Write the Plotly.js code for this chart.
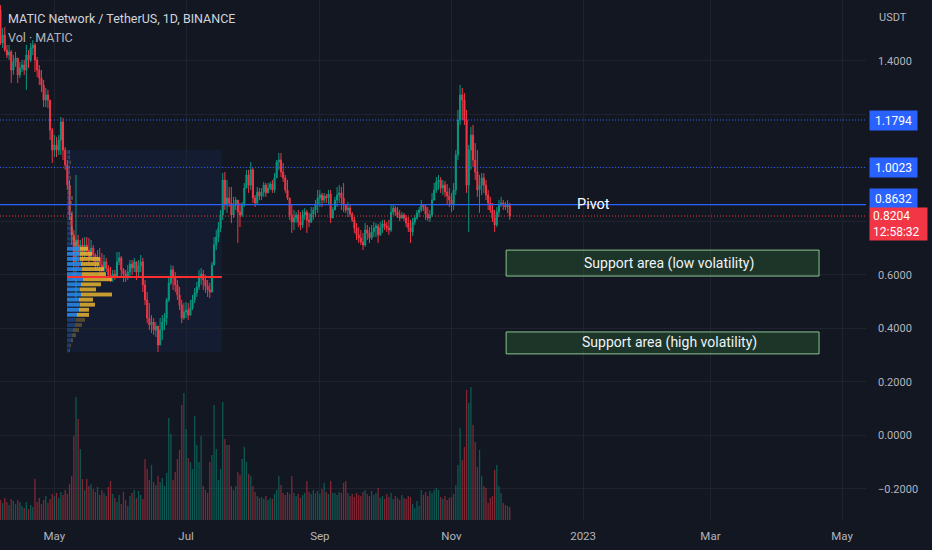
<!DOCTYPE html>
<html><head><meta charset="utf-8">
<script src="https://cdn.plot.ly/plotly-3.0.1.min.js"></script>
<style>html,body{margin:0;padding:0;background:#131722;}#chart{width:932px;height:550px;}</style>
</head><body><div id="chart"></div>
<script>
// ---- data (daily MATIC/USDT candles, first day 2022-04-06) ----
const startDate = [2022, 3, 6];
const firstOpen = 1.591;
const closeP = [
1.467,1.497,1.441,1.422,1.434,1.366,1.396,1.411,1.348,1.374,
1.385,1.366,1.422,1.404,1.449,1.460,1.404,1.366,1.336,1.310,
1.254,1.273,1.254,1.142,1.067,1.086,1.067,1.105,1.172,1.067,
1.011,0.936,0.824,0.750,0.649,0.731,0.675,0.712,0.675,0.712,
0.693,0.664,0.701,0.675,0.649,0.664,0.637,0.619,0.649,0.626,
0.600,0.589,0.604,0.596,0.649,0.664,0.619,0.604,0.596,0.611,
0.641,0.626,0.649,0.611,0.634,0.649,0.563,0.507,0.439,0.413,
0.424,0.394,0.409,0.338,0.394,0.424,0.439,0.507,0.570,0.619,
0.589,0.563,0.525,0.488,0.439,0.462,0.469,0.450,0.477,0.507,
0.533,0.555,0.589,0.604,0.581,0.559,0.544,0.536,0.637,0.712,
0.742,0.776,0.824,0.955,0.862,0.888,0.869,0.824,0.862,0.880,
0.835,0.824,0.862,0.925,0.974,0.936,0.993,0.888,0.869,0.910,
0.895,0.910,0.936,0.907,0.925,0.940,0.918,0.963,1.022,1.030,
0.985,0.963,0.918,0.888,0.824,0.798,0.813,0.824,0.798,0.787,
0.824,0.835,0.806,0.798,0.828,0.843,0.862,0.888,0.899,0.880,
0.895,0.888,0.903,0.813,0.843,0.880,0.899,0.907,0.888,0.862,
0.843,0.850,0.828,0.806,0.776,0.750,0.738,0.723,0.712,0.768,
0.757,0.738,0.761,0.776,0.783,0.750,0.776,0.791,0.783,0.776,
0.768,0.835,0.850,0.835,0.824,0.813,0.824,0.813,0.794,0.776,
0.761,0.798,0.813,0.832,0.843,0.862,0.854,0.828,0.813,0.824,
0.880,0.918,0.948,0.955,0.925,0.936,0.910,0.895,0.880,0.862,
0.918,1.049,1.179,1.273,1.254,1.179,0.936,1.067,1.123,1.030,
0.985,0.918,0.936,0.963,0.936,0.899,0.869,0.843,0.813,0.787,
0.835,0.862,0.869,0.862,0.854,0.865,0.8204];
const highP = [
1.609,1.523,1.527,1.460,1.460,1.441,1.422,1.434,1.411,1.396,
1.404,1.404,1.460,1.441,1.467,1.478,1.467,1.415,1.385,1.366,
1.329,1.299,1.292,1.254,1.150,1.123,1.116,1.123,1.191,1.187,
1.078,1.030,0.955,0.832,0.768,0.974,0.750,0.731,0.738,0.742,
0.742,0.738,0.731,0.712,0.682,0.693,0.701,0.682,0.675,0.664,
0.637,0.630,0.619,0.619,0.686,0.686,0.671,0.626,0.619,0.637,
0.656,0.656,0.664,0.649,0.656,0.675,0.664,0.581,0.536,0.495,
0.450,0.439,0.424,0.409,0.439,0.450,0.458,0.514,0.589,0.637,
0.634,0.611,0.581,0.555,0.507,0.495,0.499,0.495,0.507,0.525,
0.551,0.574,0.619,0.626,0.619,0.600,0.581,0.570,0.649,0.742,
0.768,0.798,0.843,0.981,0.985,0.955,0.929,0.929,0.892,0.892,
0.880,0.869,0.873,0.944,0.993,0.993,1.022,1.000,0.899,0.929,
0.925,0.925,0.948,0.944,0.944,0.948,0.955,0.981,1.030,1.056,
1.056,1.019,0.974,0.955,0.888,0.862,0.843,0.835,0.843,0.835,
0.843,0.850,0.843,0.832,0.854,0.854,0.880,0.918,0.918,0.907,
0.907,0.903,0.918,0.918,0.854,0.892,0.929,0.936,0.929,0.944,
0.862,0.873,0.862,0.835,0.817,0.794,0.779,0.768,0.757,0.794,
0.787,0.779,0.787,0.798,0.794,0.791,0.798,0.806,0.806,0.798,
0.806,0.862,0.862,0.858,0.854,0.843,0.835,0.832,0.824,0.817,
0.806,0.813,0.824,0.843,0.854,0.880,0.865,0.862,0.854,0.843,
0.907,0.944,0.966,0.974,0.966,0.955,0.951,0.940,0.925,0.907,
0.944,1.067,1.217,1.310,1.299,1.280,1.217,1.086,1.153,1.161,
1.093,1.067,0.974,0.981,0.981,0.955,0.918,0.892,0.869,0.843,
0.854,0.880,0.892,0.880,0.873,0.880,0.869];
const lowP = [
1.460,1.449,1.434,1.411,1.404,1.318,1.348,1.378,1.318,1.336,
1.359,1.348,1.292,1.374,1.396,1.422,1.359,1.340,1.310,1.284,
1.228,1.228,1.224,1.105,1.019,1.041,1.041,1.049,1.049,1.030,
0.993,0.918,0.806,0.712,0.581,0.507,0.626,0.645,0.649,0.664,
0.671,0.645,0.656,0.649,0.619,0.619,0.607,0.593,0.604,0.611,
0.581,0.574,0.574,0.581,0.589,0.637,0.593,0.574,0.574,0.581,
0.589,0.600,0.611,0.581,0.589,0.611,0.536,0.488,0.420,0.394,
0.383,0.376,0.368,0.312,0.338,0.357,0.394,0.413,0.499,0.563,
0.544,0.536,0.507,0.469,0.420,0.432,0.439,0.432,0.447,0.469,
0.495,0.518,0.544,0.563,0.544,0.533,0.518,0.514,0.536,0.649,
0.693,0.723,0.761,0.806,0.843,0.832,0.854,0.794,0.813,0.843,
0.720,0.779,0.817,0.854,0.929,0.907,0.918,0.869,0.854,0.862,
0.880,0.880,0.892,0.892,0.907,0.918,0.907,0.907,0.963,0.993,
0.966,0.948,0.907,0.880,0.806,0.757,0.768,0.794,0.779,0.768,
0.776,0.806,0.757,0.779,0.794,0.806,0.817,0.832,0.854,0.854,
0.869,0.869,0.862,0.794,0.817,0.854,0.854,0.869,0.843,0.835,
0.832,0.817,0.817,0.798,0.757,0.731,0.720,0.712,0.693,0.705,
0.731,0.720,0.731,0.742,0.742,0.720,0.746,0.757,0.768,0.761,
0.750,0.761,0.824,0.821,0.813,0.802,0.809,0.802,0.779,0.761,
0.720,0.746,0.787,0.806,0.817,0.835,0.839,0.806,0.802,0.798,
0.817,0.888,0.907,0.918,0.907,0.899,0.892,0.862,0.854,0.835,
0.843,0.899,1.030,1.161,1.179,1.161,0.907,0.761,0.993,1.004,
0.955,0.892,0.832,0.899,0.907,0.880,0.843,0.832,0.798,0.761,
0.779,0.817,0.854,0.843,0.843,0.832,0.806];
// daily volume, millions of MATIC
const volumeM = [
60,51,66,54,45,63,57,48,60,54,
42,36,54,33,45,39,123,54,66,48,
60,72,51,63,78,72,81,66,84,75,
90,78,108,132,252,369,303,213,123,90,
123,102,108,93,84,99,75,90,81,72,
99,117,78,66,54,75,48,84,60,42,
72,81,90,66,87,75,63,183,153,120,
165,114,105,132,114,126,102,141,306,258,
120,144,183,210,345,381,273,186,174,153,
312,225,174,252,102,90,81,174,195,345,
213,120,153,354,243,225,225,102,90,102,
144,135,183,219,174,138,132,102,84,72,
66,69,63,72,60,66,63,78,90,132,
105,81,75,84,78,132,81,72,78,66,
75,81,117,84,78,90,81,87,78,93,
111,84,78,117,81,81,75,84,81,111,
117,81,72,78,69,81,75,72,84,90,
78,72,87,75,81,96,66,72,63,78,
69,81,63,72,66,60,75,66,63,72,
69,48,36,57,42,90,75,84,72,87,
81,90,96,90,69,63,72,60,66,69,
78,105,165,276,180,219,390,351,399,285,
234,159,210,132,102,96,51,66,72,150,
165,102,81,51,45,42,39];

// time axis ticks
const tickDates = ['2022-05-01','2022-07-01','2022-09-01','2022-11-01','2023-01-01','2023-03-01','2023-05-01'];
const tickLabels = ['May','Jul','Sep','Nov','2023','Mar','May'];
// price grid; labels at 1.2, 1.0 and 0.8 sit under the price tags in the reference
const priceTicks = [-0.2, 0, 0.2, 0.4, 0.6, 0.8, 1.0, 1.2, 1.4];
const priceTickText = ['−0.2000', '0.0000', '0.2000', '0.4000', '0.6000', '', '', '', '1.4000'];

// drawn levels
const dottedLevels = [1.1794, 1.0023];
const pivotPrice = 0.8632;
const lastPrice = 0.8204;
const countdown = '12:58:32';

// support zones
const zoneLabels = ['Support area (low volatility)', 'Support area (high volatility)'];
const zoneLow = [0.596, 0.305];
const zoneHigh = [0.693, 0.387];
const zoneStart = '2022-11-26 08:00';
const zoneEnd = '2023-04-20 08:00';
const zoneTextDate = '2023-02-10';
const pivotTextDate = '2023-01-06';

// fixed range volume profile (rows: price centre, up volume, down volume)
const profileStart = '2022-05-06 20:00';
const profileEnd = '2022-07-17 15:00';
const profileLow = 0.312, profileHigh = 1.067, pocPrice = 0.5925;
const vaLow = 0.44, vaHigh = 0.71;
const profilePrice = [0.318,0.337,0.356,0.375,0.394,0.413,0.432,0.451,0.470,0.489,0.508,0.527,0.546,0.565,0.584,0.603,0.622,0.641,0.660,0.679,0.698,0.717,0.736,0.755,0.774,0.793,0.812,0.831,0.850,0.869,0.888,0.907,0.926,0.945,0.964,0.983,1.002,1.021,1.040,1.059];
const profileUp   = [2,3,4,5,6,8,9,10,12,13,12,14,13,14,16,15,15,14,13,13,13,6,5,4,4,3,3,4,3,3,4,3,3,2,3,2,2,3,2,2];
const profileDown = [1,1,2,4,6,7,9,12,10,15,14,31,16,20,29,24,22,18,20,12,8,4,3,2,2,1,2,2,1,2,2,1,1,1,1,1,1,1,1,1];

// ---- build ----
const UP = '#089981', DOWN = '#f23645';
const dates = closeP.map((_, i) => new Date(Date.UTC(startDate[0], startDate[1], startDate[2] + i)).toISOString().slice(0, 10));
const openP = [firstOpen].concat(closeP.slice(0, -1));
const volColors = closeP.map((c, i) => c >= openP[i] ? 'rgba(8,153,129,0.5)' : 'rgba(242,54,69,0.5)');

const xLeft = '2022-04-05 19:00', xRight = '2023-05-12 02:00';
const ms = s => Date.parse(s.replace(' ', 'T') + 'Z');
const fStart = (ms(profileStart) - ms(xLeft)) / (ms(xRight) - ms(xLeft));
const x3Span = 866;

const inVA = p => p >= vaLow && p <= vaHigh;
const upCols = profilePrice.map(p => inVA(p) ? 'rgba(41,140,240,0.85)' : 'rgba(41,120,220,0.35)');
const dnCols = profilePrice.map(p => inVA(p) ? 'rgba(230,180,50,0.85)' : 'rgba(200,160,60,0.35)');

const traces = [
  { type: 'bar', x: dates, y: volumeM, yaxis: 'y2', xaxis: 'x', marker: { color: volColors, line: { width: 0 } }, hoverinfo: 'skip', showlegend: false },
  { type: 'bar', orientation: 'h', y: profilePrice, x: profileUp, base: 0, xaxis: 'x3', yaxis: 'y', width: 0.0145, marker: { color: upCols, line: { width: 0 } }, hoverinfo: 'skip', showlegend: false },
  { type: 'bar', orientation: 'h', y: profilePrice, x: profileDown, base: profileUp, xaxis: 'x3', yaxis: 'y', width: 0.0145, marker: { color: dnCols, line: { width: 0 } }, hoverinfo: 'skip', showlegend: false },
  { type: 'candlestick', x: dates, open: openP, high: highP, low: lowP, close: closeP, xaxis: 'x', yaxis: 'y',
    increasing: { line: { color: UP, width: 1 }, fillcolor: UP }, decreasing: { line: { color: DOWN, width: 1 }, fillcolor: DOWN },
    whiskerwidth: 0, hoverinfo: 'skip', showlegend: false }
];

const FONT = 'Roboto, "Liberation Sans", sans-serif';
const shapes = [
  { type: 'rect', xref: 'x', yref: 'y', x0: profileStart, x1: profileEnd, y0: profileLow, y1: profileHigh, fillcolor: 'rgba(41,98,255,0.07)', line: { width: 0 }, layer: 'below' },
  { type: 'line', xref: 'x', yref: 'y', x0: profileStart, x1: profileEnd, y0: pocPrice, y1: pocPrice, line: { color: '#ff2e2e', width: 2 } }
];
dottedLevels.forEach(p => shapes.push({ type: 'line', xref: 'paper', yref: 'y', x0: 0, x1: 1, y0: p, y1: p, line: { color: '#2962ff', width: 1, dash: '1px,2px' } }));
shapes.push({ type: 'line', xref: 'paper', yref: 'y', x0: 0, x1: 1, y0: pivotPrice, y1: pivotPrice, line: { color: '#2962ff', width: 1.3 } });
shapes.push({ type: 'line', xref: 'paper', yref: 'y', x0: 0, x1: 1, y0: lastPrice, y1: lastPrice, line: { color: '#f23645', width: 1, dash: '1px,2px' } });
zoneLabels.forEach((_, k) => shapes.push({ type: 'rect', xref: 'x', yref: 'y', x0: zoneStart, x1: zoneEnd, y0: zoneLow[k], y1: zoneHigh[k], fillcolor: 'rgba(56,142,60,0.25)', line: { color: '#8cc491', width: 1 } }));

const annotations = [
  { xref: 'paper', yref: 'paper', x: 0, y: 1, xanchor: 'left', yanchor: 'top', xshift: 6, yshift: -9, text: 'MATIC Network / TetherUS, 1D, BINANCE', showarrow: false, font: { family: FONT, size: 12.5, color: '#d1d4dc' } },
  { xref: 'paper', yref: 'paper', x: 0, y: 1, xanchor: 'left', yanchor: 'top', xshift: 6, yshift: -28, text: 'Vol · MATIC', showarrow: false, font: { family: FONT, size: 12.5, color: '#b2b5be' } },
  { xref: 'paper', yref: 'paper', x: 1, y: 1, xanchor: 'left', yanchor: 'top', xshift: 11, yshift: -9, text: 'USDT', showarrow: false, font: { family: FONT, size: 11, color: '#b2b5be' } },
  { xref: 'x', yref: 'y', x: pivotTextDate, y: pivotPrice, text: 'Pivot', showarrow: false, font: { family: FONT, size: 14.5, color: '#ffffff' } }
];
dottedLevels.concat([pivotPrice]).forEach((p, k) => annotations.push({ xref: 'paper', yref: 'y', x: 1, y: p, xanchor: 'left', yanchor: 'middle', xshift: 3, yshift: k === 2 ? 6 : 0, width: 41, height: 13, text: p.toFixed(4), showarrow: false, bgcolor: '#2962ff', borderpad: 3, font: { family: FONT, size: 12, color: '#ffffff' } }));
annotations.push({ xref: 'paper', yref: 'y', x: 1, y: lastPrice, xanchor: 'left', yanchor: 'top', xshift: 3, yshift: 9, width: 51, height: 26, align: 'left', text: lastPrice.toFixed(4) + '<br>' + countdown, showarrow: false, bgcolor: '#f23645', borderpad: 3, font: { family: FONT, size: 12, color: '#ffffff' } });
zoneLabels.forEach((t, k) => annotations.push({ xref: 'x', yref: 'y', x: zoneTextDate, y: (zoneLow[k] + zoneHigh[k]) / 2, text: t, showarrow: false, font: { family: FONT, size: 14, color: '#f0f3fa' } }));

const layout = {
  width: 932, height: 550,
  margin: { l: 0, r: 66, t: 0, b: 30 },
  paper_bgcolor: '#131722', plot_bgcolor: '#131722',
  barmode: 'overlay', bargap: 0.4, hovermode: false, showlegend: false,
  font: { family: FONT, color: '#b2b5be' },
  xaxis: { type: 'date', range: [xLeft, xRight], tickmode: 'array', tickvals: tickDates, ticktext: tickLabels,
    showgrid: true, gridcolor: '#1f2330', zeroline: false, showline: false, ticks: '', ticklabelstandoff: 7,
    tickfont: { family: FONT, size: 11.5, color: '#b2b5be' }, rangeslider: { visible: false }, fixedrange: true },
  xaxis3: { overlaying: 'x', range: [-fStart * x3Span, (1 - fStart) * x3Span], visible: false, fixedrange: true },
  yaxis: { side: 'right', range: [-0.316, 1.628], tickmode: 'array', tickvals: priceTicks, ticktext: priceTickText,
    showgrid: true, gridcolor: '#1f2330', zeroline: false, showline: false, ticks: '', ticklabelstandoff: 11,
    tickfont: { family: FONT, size: 11, color: '#b2b5be' }, fixedrange: true },
  yaxis2: { overlaying: 'y', range: [0, 1560], visible: false, fixedrange: true },
  shapes: shapes, annotations: annotations
};

Plotly.newPlot('chart', traces, layout, { displayModeBar: false, staticPlot: true });
</script></body></html>
